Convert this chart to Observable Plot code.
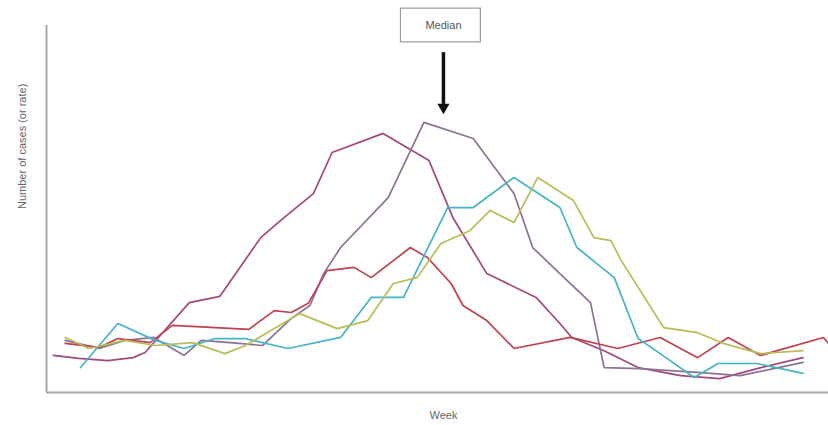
<!DOCTYPE html>
<html>
<head>
<meta charset="utf-8">
<script src="https://cdn.jsdelivr.net/npm/d3@7"></script>
<script src="https://cdn.jsdelivr.net/npm/@observablehq/plot@0.6"></script>
<style>
  html, body { margin: 0; padding: 0; background: #fff; }
  #chart { width: 828px; height: 425px; }
</style>
</head>
<body>
<div id="chart"></div>
<script>
// Series (x = week, y = number of cases, arbitrary units)
const seriesNames = ["Season 1", "Season 2", "Season 3", "Season 4", "Season 5"];
const seriesColors = ["#a3487f", "#8c7294", "#c2414f", "#45b4c6", "#b8bd55"];

const weeks1 = [0.4, 1.9, 3.6, 5.1, 5.8, 8.4, 10.2, 12.6, 13.9, 15.7, 16.8, 19.8, 22.5, 23.9, 25.9, 28.8, 30.2, 30.9, 32.8, 34.8, 37.3, 39.6, 41.8, 44.5];
const cases1 = [10.1, 9.3, 8.7, 9.5, 10.9, 24.5, 26.2, 42.2, 47.4, 54.2, 65.4, 70.6, 63.2, 47.7, 32.4, 25.9, 18.8, 15.0, 11.4, 6.8, 4.6, 3.8, 6.5, 9.5];

const weeks2 = [1.1, 3.1, 4.6, 6.3, 8.1, 9.1, 10.8, 12.7, 14.4, 15.5, 16.3, 17.3, 20.1, 22.2, 25.1, 27.5, 28.6, 30.2, 32.0, 32.8, 34.9, 38.5, 40.8, 44.5];
const cases2 = [14.2, 12.0, 14.2, 15.0, 10.1, 14.2, 13.6, 12.8, 20.2, 23.7, 32.4, 39.5, 53.1, 73.6, 69.2, 54.2, 39.5, 32.4, 24.5, 6.8, 6.5, 5.4, 4.6, 8.2];

const weeks3 = [1.1, 3.1, 4.2, 6.1, 7.4, 11.9, 13.4, 14.4, 15.4, 16.5, 18.1, 19.1, 21.4, 22.4, 23.8, 24.5, 25.9, 27.5, 30.8, 33.6, 36.1, 38.3, 40.1, 42.0, 45.7, 46.0];
const cases3 = [13.4, 12.3, 14.7, 13.6, 18.3, 17.2, 22.3, 21.8, 24.3, 33.2, 34.1, 31.3, 39.5, 36.8, 29.7, 23.7, 19.6, 12.0, 15.0, 12.0, 15.0, 9.5, 15.0, 10.1, 15.0, 13.4];

const weeks4 = [2.0, 4.2, 6.4, 8.1, 9.9, 11.7, 14.2, 17.3, 19.1, 21.0, 23.6, 25.1, 27.5, 30.2, 31.2, 33.4, 34.8, 36.1, 38.1, 39.5, 41.8, 44.5];
const cases4 = [6.8, 18.8, 14.2, 12.0, 14.7, 14.7, 12.0, 15.0, 25.9, 25.9, 50.4, 50.4, 58.6, 50.4, 39.5, 31.3, 14.7, 10.6, 4.1, 7.9, 7.9, 5.2];

const weeks5 = [1.1, 2.5, 4.6, 6.4, 8.6, 10.5, 11.7, 14.9, 17.1, 18.9, 20.4, 21.8, 23.2, 24.9, 26.1, 27.5, 28.9, 31.0, 32.2, 33.2, 33.8, 36.3, 38.3, 39.8, 42.0, 44.5];
const cases5 = [15.0, 12.0, 14.2, 12.8, 13.6, 10.6, 12.8, 21.5, 17.4, 19.6, 29.7, 31.3, 40.6, 44.1, 49.6, 46.3, 58.6, 52.3, 42.2, 41.4, 36.0, 17.7, 16.3, 13.4, 10.6, 11.4];

// Annotation
const medianLabel = "Median";
const medianWeek = 23.35;
const arrowFrom = 92.6, arrowTo = 76.5;
const boxLeft = 20.85, boxRight = 25.55, boxTop = 104.6, boxBottom = 95.4;

const allWeeks = [weeks1, weeks2, weeks3, weeks4, weeks5];
const allCases = [cases1, cases2, cases3, cases4, cases5];
const rows = [];
allWeeks.forEach((ws, i) => ws.forEach((w, j) => rows.push({series: seriesNames[i], week: w, cases: allCases[i][j]})));

const chart = Plot.plot({
  width: 828,
  height: 425,
  marginLeft: 46,
  marginRight: 0,
  marginTop: 25,
  marginBottom: 33,
  x: {domain: [0, 46], axis: null},
  y: {domain: [0, 100], axis: null},
  color: {domain: seriesNames, range: seriesColors},
  style: {fontFamily: "'Liberation Sans', Arial, sans-serif", background: "#fff"},
  marks: [
    Plot.ruleX([0], {stroke: "#a8a8a8", strokeWidth: 2}),
    Plot.ruleY([0], {stroke: "#a8a8a8", strokeWidth: 2}),
    Plot.line(rows, {x: "week", y: "cases", z: "series", stroke: "series", strokeWidth: 1.7, strokeLinejoin: "miter"}),
    Plot.rect([{}], {x1: boxLeft, x2: boxRight, y1: boxBottom, y2: boxTop, fill: "#fff", stroke: "#9a9a9a", strokeWidth: 1.2}),
    Plot.text([medianLabel], {x: medianWeek, y: (boxTop + boxBottom) / 2, text: d => d, fontSize: 11, fill: "#555"}),
    Plot.ruleX([medianWeek], {y1: arrowFrom, y2: arrowTo + 2, stroke: "#111", strokeWidth: 3.5}),
    Plot.dot([medianWeek], {x: d => d, y: arrowTo + 1.2, symbol: "triangle", rotate: 180, r: 4.5, fill: "#111", stroke: "none"}),
    Plot.text(["Number of cases (or rate)"], {frameAnchor: "left", dx: -24, rotate: -90, text: d => d, fontSize: 11, fill: "#666"}),
    Plot.text(["Week"], {frameAnchor: "bottom", dx: 6, dy: 26, text: d => d, fontSize: 11, fill: "#666"})
  ]
});
document.getElementById("chart").appendChild(chart);
</script>
</body>
</html>
